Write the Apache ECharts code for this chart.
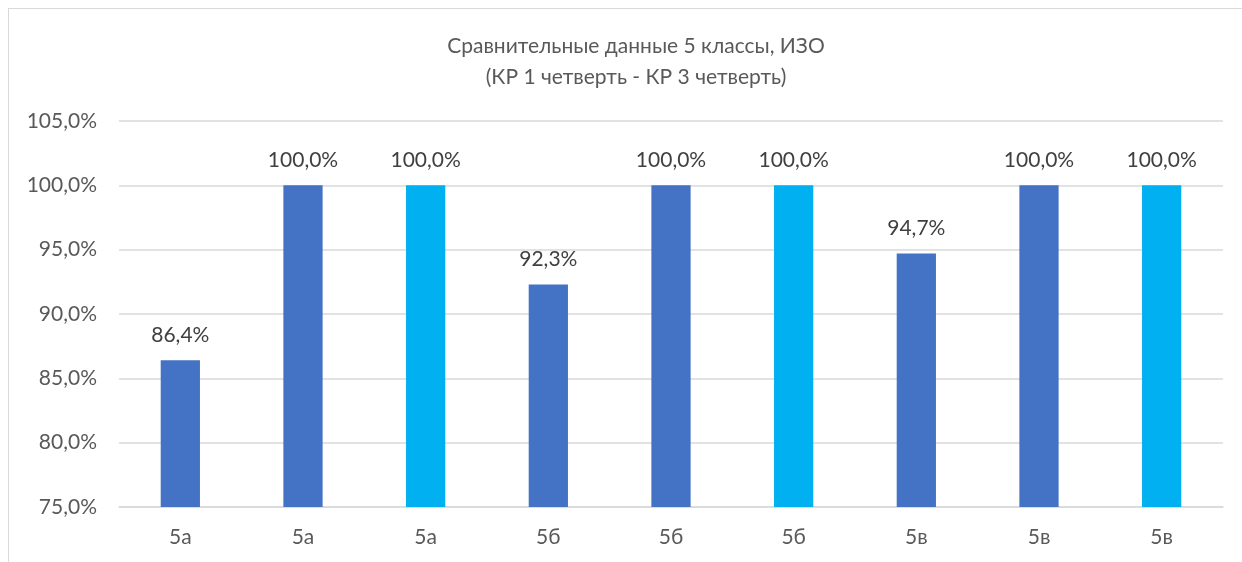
<!DOCTYPE html>
<html><head><meta charset="utf-8">
<script src="https://cdn.jsdelivr.net/npm/echarts@6/dist/echarts.min.js"></script>
<style>html,body{margin:0;padding:0;background:#fff}#c{width:1242px;height:562px}
#frame{position:absolute;left:8px;top:8px;width:1300px;height:600px;border:1.5px solid #d9d9d9;pointer-events:none}</style>
</head><body><div id="c"></div><div id="frame"></div>
<script>
const categories = ['5а','5а','5а','5б','5б','5б','5в','5в','5в'];
const values = [86.4, 100.0, 100.0, 92.3, 100.0, 100.0, 94.7, 100.0, 100.0];
const barColors = ['#4472C4','#4472C4','#00B0F0','#4472C4','#4472C4','#00B0F0','#4472C4','#4472C4','#00B0F0'];
const titleLines = ['Сравнительные данные 5 классы, ИЗО', '(КР 1 четверть - КР 3 четверть)'];
const yMin = 75, yMax = 105, yStep = 5;

const fmt = v => v.toFixed(1).replace('.', ',') + '%';
const font = 'Lato, "Noto Sans", sans-serif';
const chart = echarts.init(document.getElementById('c'), null, {renderer:'canvas'});
chart.setOption({
  animation:false,
  backgroundColor:'#fff',
  title:{text:titleLines.join('\n'), left:631, textAlign:'center', top:26,
    textStyle:{color:'#595959', fontFamily:font, fontSize:21, fontWeight:'normal', lineHeight:31}},
  grid:{left:119, right:19, top:121, bottom:55, containLabel:false},
  xAxis:{type:'category', data:categories,
    axisLine:{lineStyle:{color:'#d9d9d9', width:1.5}}, axisTick:{show:false},
    axisLabel:{color:'#595959', fontFamily:font, fontSize:21, margin:20}},
  yAxis:{type:'value', min:yMin, max:yMax, interval:yStep,
    axisLine:{show:false}, axisTick:{show:false},
    splitLine:{lineStyle:{color:'#d9d9d9', width:1.5}},
    axisLabel:{color:'#595959', fontFamily:font, fontSize:21, margin:22, formatter:v=>fmt(v)}},
  series:[{type:'bar', barWidth:'32%',
    data:values.map((v,i)=>({value:v, itemStyle:{color:barColors[i]}})),
    label:{show:true, position:'top', distance:15, color:'#404040', fontFamily:font, fontSize:21, formatter:p=>fmt(p.value)}}]
});
</script></body></html>
